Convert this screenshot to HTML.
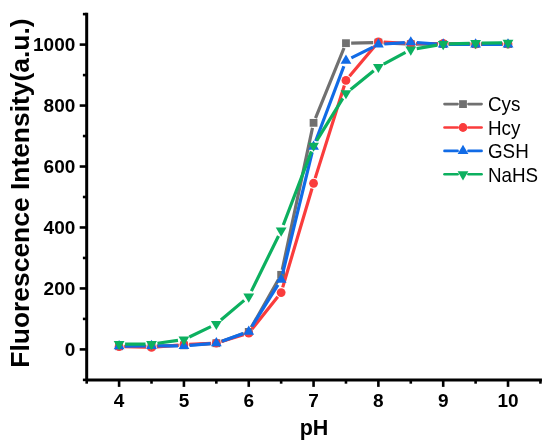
<!DOCTYPE html>
<html><head><meta charset="utf-8"><style>
html,body{margin:0;padding:0;background:#fff;}
svg{display:block;filter:blur(0.3px);}
text{font-family:"Liberation Sans",Arial,sans-serif;fill:#000;}
.tk{font-size:19.0px;font-weight:bold;}
.tt{font-size:21.5px;font-weight:bold;}
.tt2{font-size:26.42px;font-weight:bold;}
.lg{font-size:18.8px;}
</style></head><body>
<svg width="550" height="446" viewBox="0 0 550 446">
<rect width="550" height="446" fill="#fff"/>
<line x1="86.69" y1="12.82" x2="86.69" y2="379.88" stroke="#000" stroke-width="3.0"/>
<line x1="86.69" y1="379.88" x2="541.93" y2="379.88" stroke="#000" stroke-width="3.0"/>
<line x1="82.89" y1="379.88" x2="86.69" y2="379.88" stroke="#000" stroke-width="2.6"/>
<line x1="79.69" y1="349.40" x2="86.69" y2="349.40" stroke="#000" stroke-width="2.6"/>
<line x1="82.89" y1="318.92" x2="86.69" y2="318.92" stroke="#000" stroke-width="2.6"/>
<line x1="79.69" y1="288.44" x2="86.69" y2="288.44" stroke="#000" stroke-width="2.6"/>
<line x1="82.89" y1="257.96" x2="86.69" y2="257.96" stroke="#000" stroke-width="2.6"/>
<line x1="79.69" y1="227.48" x2="86.69" y2="227.48" stroke="#000" stroke-width="2.6"/>
<line x1="82.89" y1="197.00" x2="86.69" y2="197.00" stroke="#000" stroke-width="2.6"/>
<line x1="79.69" y1="166.52" x2="86.69" y2="166.52" stroke="#000" stroke-width="2.6"/>
<line x1="82.89" y1="136.04" x2="86.69" y2="136.04" stroke="#000" stroke-width="2.6"/>
<line x1="79.69" y1="105.56" x2="86.69" y2="105.56" stroke="#000" stroke-width="2.6"/>
<line x1="82.89" y1="75.08" x2="86.69" y2="75.08" stroke="#000" stroke-width="2.6"/>
<line x1="79.69" y1="44.60" x2="86.69" y2="44.60" stroke="#000" stroke-width="2.6"/>
<line x1="82.89" y1="14.12" x2="86.69" y2="14.12" stroke="#000" stroke-width="2.6"/>
<line x1="86.69" y1="379.88" x2="86.69" y2="383.68" stroke="#000" stroke-width="2.6"/>
<line x1="119.10" y1="379.88" x2="119.10" y2="386.88" stroke="#000" stroke-width="2.6"/>
<line x1="151.51" y1="379.88" x2="151.51" y2="383.68" stroke="#000" stroke-width="2.6"/>
<line x1="183.92" y1="379.88" x2="183.92" y2="386.88" stroke="#000" stroke-width="2.6"/>
<line x1="216.33" y1="379.88" x2="216.33" y2="383.68" stroke="#000" stroke-width="2.6"/>
<line x1="248.74" y1="379.88" x2="248.74" y2="386.88" stroke="#000" stroke-width="2.6"/>
<line x1="281.15" y1="379.88" x2="281.15" y2="383.68" stroke="#000" stroke-width="2.6"/>
<line x1="313.56" y1="379.88" x2="313.56" y2="386.88" stroke="#000" stroke-width="2.6"/>
<line x1="345.97" y1="379.88" x2="345.97" y2="383.68" stroke="#000" stroke-width="2.6"/>
<line x1="378.38" y1="379.88" x2="378.38" y2="386.88" stroke="#000" stroke-width="2.6"/>
<line x1="410.79" y1="379.88" x2="410.79" y2="383.68" stroke="#000" stroke-width="2.6"/>
<line x1="443.20" y1="379.88" x2="443.20" y2="386.88" stroke="#000" stroke-width="2.6"/>
<line x1="475.61" y1="379.88" x2="475.61" y2="383.68" stroke="#000" stroke-width="2.6"/>
<line x1="508.02" y1="379.88" x2="508.02" y2="386.88" stroke="#000" stroke-width="2.6"/>
<line x1="540.43" y1="379.88" x2="540.43" y2="383.68" stroke="#000" stroke-width="2.6"/>
<text x="75.3" y="355.70" text-anchor="end" class="tk">0</text>
<text x="75.3" y="294.74" text-anchor="end" class="tk">200</text>
<text x="75.3" y="233.78" text-anchor="end" class="tk">400</text>
<text x="75.3" y="172.82" text-anchor="end" class="tk">600</text>
<text x="75.3" y="111.86" text-anchor="end" class="tk">800</text>
<text x="75.3" y="50.90" text-anchor="end" class="tk">1000</text>
<text x="119.10" y="407.3" text-anchor="middle" class="tk">4</text>
<text x="183.92" y="407.3" text-anchor="middle" class="tk">5</text>
<text x="248.74" y="407.3" text-anchor="middle" class="tk">6</text>
<text x="313.56" y="407.3" text-anchor="middle" class="tk">7</text>
<text x="378.38" y="407.3" text-anchor="middle" class="tk">8</text>
<text x="443.20" y="407.3" text-anchor="middle" class="tk">9</text>
<text x="508.02" y="407.3" text-anchor="middle" class="tk">10</text>
<text x="314" y="435.1" text-anchor="middle" class="tt">pH</text>
<text transform="translate(28.5 193.05) rotate(-90)" text-anchor="middle" class="tt2">Fluorescence Intensity(a.u.)</text>
<path d="M124.30 346.25L146.31 346.25M156.71 346.10L178.72 345.48M189.11 344.99L211.14 343.54M221.24 341.49L243.83 333.61M251.31 327.38L278.58 279.35M282.23 269.75L312.48 127.93M315.52 118.03L344.01 48.00M351.17 43.09L373.18 42.67M383.57 42.82L405.60 43.86M415.99 44.10L438.00 44.10M448.40 44.10L470.41 44.10M480.81 44.10L502.82 44.10" stroke="#707070" stroke-width="3.2" fill="none" stroke-linecap="butt"/>
<rect x="115.20" y="342.35" width="7.8" height="7.8" fill="#707070"/>
<rect x="147.61" y="342.35" width="7.8" height="7.8" fill="#707070"/>
<rect x="180.02" y="341.43" width="7.8" height="7.8" fill="#707070"/>
<rect x="212.43" y="339.30" width="7.8" height="7.8" fill="#707070"/>
<rect x="244.84" y="328.00" width="7.8" height="7.8" fill="#707070"/>
<rect x="277.25" y="270.93" width="7.8" height="7.8" fill="#707070"/>
<rect x="309.66" y="118.94" width="7.8" height="7.8" fill="#707070"/>
<rect x="342.07" y="39.28" width="7.8" height="7.8" fill="#707070"/>
<rect x="374.48" y="38.67" width="7.8" height="7.8" fill="#707070"/>
<rect x="406.89" y="40.20" width="7.8" height="7.8" fill="#707070"/>
<rect x="439.30" y="40.20" width="7.8" height="7.8" fill="#707070"/>
<rect x="471.71" y="40.20" width="7.8" height="7.8" fill="#707070"/>
<rect x="504.12" y="40.20" width="7.8" height="7.8" fill="#707070"/>
<path d="M124.50 346.68L146.11 347.19M156.89 346.89L178.54 345.15M189.31 344.47L210.94 343.45M221.49 341.59L243.58 334.73M252.11 328.90L277.78 296.75M282.69 287.36L312.02 188.45M315.18 178.12L344.35 85.57M349.45 76.29L374.90 46.09M383.77 42.22L405.40 43.24M416.19 43.49L437.80 43.49M448.60 43.59L470.21 44.00M481.01 44.10L502.62 44.10" stroke="#fa3c3c" stroke-width="3.2" fill="none" stroke-linecap="butt"/>
<circle cx="119.10" cy="346.55" r="4.4" fill="#fa3c3c"/>
<circle cx="151.51" cy="347.32" r="4.4" fill="#fa3c3c"/>
<circle cx="183.92" cy="344.72" r="4.4" fill="#fa3c3c"/>
<circle cx="216.33" cy="343.20" r="4.4" fill="#fa3c3c"/>
<circle cx="248.74" cy="333.12" r="4.4" fill="#fa3c3c"/>
<circle cx="281.15" cy="292.53" r="4.4" fill="#fa3c3c"/>
<circle cx="313.56" cy="183.27" r="4.4" fill="#fa3c3c"/>
<circle cx="345.97" cy="80.42" r="4.4" fill="#fa3c3c"/>
<circle cx="378.38" cy="41.96" r="4.4" fill="#fa3c3c"/>
<circle cx="410.79" cy="43.49" r="4.4" fill="#fa3c3c"/>
<circle cx="443.20" cy="43.49" r="4.4" fill="#fa3c3c"/>
<circle cx="475.61" cy="44.10" r="4.4" fill="#fa3c3c"/>
<circle cx="508.02" cy="44.10" r="4.4" fill="#fa3c3c"/>
<path d="M125.10 346.19L145.51 346.00M157.51 345.94L177.92 345.94M189.90 345.44L210.35 343.70M221.98 341.17L243.09 333.62M251.92 326.51L277.97 284.80M282.57 273.88L312.14 152.48M315.67 141.03L343.86 66.20M351.34 57.90L373.01 47.08M384.37 44.01L404.80 42.66M416.78 42.66L437.21 44.01M449.20 44.41L469.61 44.41M481.61 44.41L502.02 44.41" stroke="#116be6" stroke-width="3.2" fill="none" stroke-linecap="butt"/>
<polygon points="119.10,340.11 124.50,349.31 113.70,349.31" fill="#116be6"/>
<polygon points="151.51,339.81 156.91,349.01 146.11,349.01" fill="#116be6"/>
<polygon points="183.92,339.81 189.32,349.01 178.52,349.01" fill="#116be6"/>
<polygon points="216.33,337.06 221.73,346.26 210.93,346.26" fill="#116be6"/>
<polygon points="248.74,325.47 254.14,334.67 243.34,334.67" fill="#116be6"/>
<polygon points="281.15,273.58 286.55,282.78 275.75,282.78" fill="#116be6"/>
<polygon points="313.56,140.51 318.96,149.71 308.16,149.71" fill="#116be6"/>
<polygon points="345.97,54.45 351.37,63.65 340.57,63.65" fill="#116be6"/>
<polygon points="378.38,38.27 383.78,47.47 372.98,47.47" fill="#116be6"/>
<polygon points="410.79,36.14 416.19,45.34 405.39,45.34" fill="#116be6"/>
<polygon points="443.20,38.27 448.60,47.47 437.80,47.47" fill="#116be6"/>
<polygon points="475.61,38.27 481.01,47.47 470.21,47.47" fill="#116be6"/>
<polygon points="508.02,38.27 513.42,47.47 502.62,47.47" fill="#116be6"/>
<path d="M125.10 344.11L145.51 344.11M157.45 343.27L177.98 340.37M189.33 336.94L210.92 326.57M220.91 320.09L244.16 300.38M251.39 291.12L278.50 235.96M283.29 224.97L311.42 151.34M316.71 140.63L342.82 98.34M350.63 89.46L373.72 70.77M383.67 64.15L405.50 52.43M416.71 48.59L437.28 45.10M449.20 43.93L469.61 43.35M481.61 43.13L502.02 42.94" stroke="#0cb05f" stroke-width="3.2" fill="none" stroke-linecap="butt"/>
<polygon points="113.70,341.04 124.50,341.04 119.10,350.24" fill="#0cb05f"/>
<polygon points="146.11,341.04 156.91,341.04 151.51,350.24" fill="#0cb05f"/>
<polygon points="178.52,336.47 189.32,336.47 183.92,345.67" fill="#0cb05f"/>
<polygon points="210.93,320.90 221.73,320.90 216.33,330.10" fill="#0cb05f"/>
<polygon points="243.34,293.43 254.14,293.43 248.74,302.63" fill="#0cb05f"/>
<polygon points="275.75,227.51 286.55,227.51 281.15,236.71" fill="#0cb05f"/>
<polygon points="308.16,142.66 318.96,142.66 313.56,151.86" fill="#0cb05f"/>
<polygon points="340.57,90.17 351.37,90.17 345.97,99.37" fill="#0cb05f"/>
<polygon points="372.98,63.92 383.78,63.92 378.38,73.12" fill="#0cb05f"/>
<polygon points="405.39,46.53 416.19,46.53 410.79,55.73" fill="#0cb05f"/>
<polygon points="437.80,41.03 448.60,41.03 443.20,50.23" fill="#0cb05f"/>
<polygon points="470.21,40.12 481.01,40.12 475.61,49.32" fill="#0cb05f"/>
<polygon points="502.62,39.81 513.42,39.81 508.02,49.01" fill="#0cb05f"/>
<line x1="444.5" y1="104.10" x2="457.6" y2="104.10" stroke="#707070" stroke-width="2.6" stroke-linecap="round"/>
<line x1="468.4" y1="104.10" x2="481.6" y2="104.10" stroke="#707070" stroke-width="2.6" stroke-linecap="round"/>
<rect x="459.10" y="100.20" width="7.8" height="7.8" fill="#707070"/>
<text transform="translate(488.0 111.30) scale(1 1.09)" class="lg">Cys</text>
<line x1="444.5" y1="127.50" x2="457.6" y2="127.50" stroke="#fa3c3c" stroke-width="2.6" stroke-linecap="round"/>
<line x1="468.4" y1="127.50" x2="481.6" y2="127.50" stroke="#fa3c3c" stroke-width="2.6" stroke-linecap="round"/>
<circle cx="463.00" cy="127.50" r="4.4" fill="#fa3c3c"/>
<text transform="translate(488.0 134.70) scale(1 1.09)" class="lg">Hcy</text>
<line x1="444.5" y1="150.90" x2="457.6" y2="150.90" stroke="#116be6" stroke-width="2.6" stroke-linecap="round"/>
<line x1="468.4" y1="150.90" x2="481.6" y2="150.90" stroke="#116be6" stroke-width="2.6" stroke-linecap="round"/>
<polygon points="463.00,144.77 468.40,153.97 457.60,153.97" fill="#116be6"/>
<text transform="translate(488.0 158.10) scale(1 1.09)" class="lg">GSH</text>
<line x1="444.5" y1="174.30" x2="457.6" y2="174.30" stroke="#0cb05f" stroke-width="2.6" stroke-linecap="round"/>
<line x1="468.4" y1="174.30" x2="481.6" y2="174.30" stroke="#0cb05f" stroke-width="2.6" stroke-linecap="round"/>
<polygon points="457.60,171.23 468.40,171.23 463.00,180.43" fill="#0cb05f"/>
<text transform="translate(488.0 181.50) scale(1 1.09)" class="lg">NaHS</text>
</svg>
</body></html>
